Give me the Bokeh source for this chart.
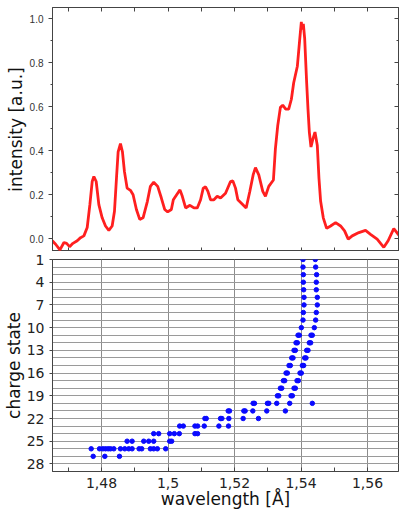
from bokeh.plotting import figure
from bokeh.models import Range1d, LinearAxis, FixedTicker, CustomJSTickFormatter, ColumnDataSource
from bokeh.layouts import column
from bokeh.embed import file_html
from bokeh.resources import INLINE

# ---- spectrum (top panel) ----
spec_wavelength = [
    1.4652, 1.4662, 1.4675, 1.4687, 1.4695, 1.4704, 1.4714, 1.4727, 1.4737, 1.4747,
    1.4757, 1.4765, 1.4772, 1.4777, 1.4784, 1.4792, 1.4802, 1.4812, 1.4822, 1.4832,
    1.4839, 1.4845, 1.4850, 1.4857, 1.4863, 1.4869, 1.4877, 1.4887, 1.4895, 1.4905,
    1.4915, 1.4925, 1.4938, 1.4947, 1.4957, 1.4969, 1.4980, 1.4990, 1.4999, 1.5010,
    1.5016, 1.5026, 1.5036, 1.5043, 1.5053, 1.5066, 1.5078, 1.5088, 1.5098, 1.5106,
    1.5113, 1.5120, 1.5128, 1.5138, 1.5148, 1.5158, 1.5173, 1.5188, 1.5195, 1.5203,
    1.5210, 1.5223, 1.5235, 1.5246, 1.5256, 1.5263, 1.5273, 1.5285, 1.5293, 1.5303,
    1.5317, 1.5323, 1.5330, 1.5338, 1.5345, 1.5354, 1.5363, 1.5371, 1.5378, 1.5389,
    1.5396, 1.5401, 1.5403, 1.5407, 1.5411, 1.5417, 1.5421, 1.5425, 1.5430, 1.5436,
    1.5442, 1.5449, 1.5454, 1.5459, 1.5467, 1.5477, 1.5489, 1.5504, 1.5519, 1.5531,
    1.5542, 1.5554, 1.5574, 1.5594, 1.5609, 1.5629, 1.5649, 1.5662, 1.5679, 1.5696,
]
spec_intensity = [
    -0.010, -0.026, -0.052, -0.018, -0.022, -0.037, -0.022, -0.010, 0.004, 0.012,
    0.050, 0.154, 0.259, 0.282, 0.259, 0.154, 0.094, 0.057, 0.037, 0.057,
    0.124, 0.274, 0.394, 0.431, 0.394, 0.304, 0.229, 0.219, 0.199, 0.132,
    0.087, 0.094, 0.169, 0.237, 0.256, 0.237, 0.184, 0.132, 0.121, 0.132,
    0.176, 0.199, 0.221, 0.192, 0.139, 0.151, 0.139, 0.139, 0.176, 0.229,
    0.235, 0.214, 0.176, 0.176, 0.192, 0.184, 0.206, 0.259, 0.262, 0.229,
    0.176, 0.157, 0.139, 0.214, 0.289, 0.322, 0.289, 0.214, 0.192, 0.237,
    0.266, 0.409, 0.513, 0.596, 0.606, 0.588, 0.588, 0.633, 0.708, 0.783,
    0.903, 0.985, 0.950, 0.975, 0.910, 0.708, 0.588, 0.484, 0.416, 0.454,
    0.484, 0.423, 0.274, 0.169, 0.094, 0.046, 0.057, 0.072, 0.057, 0.035,
    -0.003, 0.012, 0.027, 0.037, 0.019, -0.003, -0.040, -0.010, 0.045, 0.012,
]

# ---- transition wavelengths per charge state (bottom panel) ----
charge = (
    [1] * 2 + [2] * 2 + [3] * 2 + [4] * 2 + [5] * 2 + [6] * 2 + [7] * 2 + [8] * 2 + [9] * 2 + [10] * 2
    + [11] * 4 + [12] * 4 + [13] * 4 + [14] * 4 + [15] * 4 + [16] * 4 + [17] * 4 + [18] * 4 + [19] * 4
    + [20] * 7 + [21] * 7 + [22] * 7 + [23] * 7 + [24] * 7 + [25] * 7 + [26] * 17 + [27] * 3
)
line_wavelength = [
    1.5406, 1.5443,
    1.5406, 1.5444,
    1.5407, 1.5447,
    1.5407, 1.5446,
    1.5408, 1.5446,
    1.5409, 1.5449,
    1.5409, 1.5449,
    1.5407, 1.5446,
    1.5406, 1.5444,
    1.5401, 1.5440,
    1.5391, 1.5395, 1.5430, 1.5434,
    1.5385, 1.5389, 1.5425, 1.5429,
    1.5379, 1.5383, 1.5417, 1.5421,
    1.5372, 1.5376, 1.5411, 1.5415,
    1.5364, 1.5368, 1.5404, 1.5408,
    1.5355, 1.5359, 1.5397, 1.5401,
    1.5347, 1.5351, 1.5388, 1.5392,
    1.5338, 1.5342, 1.5379, 1.5383,
    1.5329, 1.5333, 1.5370, 1.5374,
    1.5256, 1.5260, 1.5299, 1.5303, 1.5327, 1.5366, 1.5434,
    1.5181, 1.5185, 1.5228, 1.5232, 1.5255, 1.5297, 1.5353,
    1.5111, 1.5115, 1.5158, 1.5162, 1.5183, 1.5226, 1.5272,
    1.5035, 1.5046, 1.5081, 1.5089, 1.5109, 1.5153, 1.5182,
    1.4957, 1.4972, 1.5005, 1.5019, 1.5034, 1.5081, 1.5089,
    1.4877, 1.4892, 1.4927, 1.4942, 1.4957, 1.5005, 1.5011,
    1.4769, 1.4794, 1.4804, 1.4812, 1.4820, 1.4827, 1.4837, 1.4857, 1.4870,
    1.4882, 1.4892, 1.4913, 1.4921, 1.4947, 1.4957, 1.4968, 1.4993,
    1.4775, 1.4810, 1.4854,
]

x_major = [1.48, 1.50, 1.52, 1.54, 1.56]
x_minor = [1.47, 1.48, 1.49, 1.50, 1.51, 1.52, 1.53, 1.54, 1.55, 1.56]
y_top_major = [0.0, 0.2, 0.4, 0.6, 0.8, 1.0]
y_top_minor = [0.1, 0.3, 0.5, 0.7, 0.9]
charge_ticks = [1, 4, 7, 10, 13, 16, 19, 22, 25, 28]
charge_rows = list(range(1, 29))

X0, X1 = 1.46526, 1.56932
W = 399
LEFT = 52
RIGHT = 1
AX = "#444444"

# ---------------- top panel ----------------
p1 = figure(width=W, height=251, x_range=Range1d(X0, X1), y_range=Range1d(-0.059, 1.05),
            output_backend="svg", toolbar_location=None,
            x_axis_location=None, y_axis_location=None,
            min_border_left=LEFT, min_border_right=RIGHT, min_border_top=7, min_border_bottom=0)
p1.grid.visible = False
p1.outline_line_color = AX

ly = LinearAxis(ticker=FixedTicker(ticks=y_top_major, minor_ticks=y_top_minor),
                formatter=CustomJSTickFormatter(code="return tick.toFixed(1);"),
                axis_label="intensity [a.u.]")
ly.axis_label_text_font = "DejaVu Sans"
ly.axis_label_text_font_size = "17px"
ly.axis_label_text_font_style = "normal"
ly.axis_label_text_color = "#111111"
ly.axis_label_standoff = 1
ly.major_label_text_font = "Liberation Sans"
ly.major_label_text_font_size = "10px"
ly.major_label_text_color = "#333333"
ly.major_label_standoff = 5
ly.major_tick_out = 4
ly.major_tick_in = 0
ly.minor_tick_out = 2
ly.minor_tick_in = 0
ly.axis_line_color = AX
ly.major_tick_line_color = AX
ly.minor_tick_line_color = AX
p1.add_layout(ly, "left")

ry = LinearAxis(ticker=FixedTicker(ticks=y_top_major, minor_ticks=y_top_minor),
                formatter=CustomJSTickFormatter(code="return '';"))
ry.major_label_text_font_size = "0px"
ry.major_label_standoff = 0
ry.major_tick_out = 0
ry.major_tick_in = 4
ry.minor_tick_out = 0
ry.minor_tick_in = 2
ry.axis_line_color = AX
ry.major_tick_line_color = AX
ry.minor_tick_line_color = AX
p1.add_layout(ry, "right")

for loc in ("above", "below"):
    ax = LinearAxis(ticker=FixedTicker(ticks=x_minor, minor_ticks=[]),
                    formatter=CustomJSTickFormatter(code="return '';"))
    ax.major_label_text_font_size = "0px"
    ax.major_label_standoff = 0
    ax.major_tick_out = 0
    ax.major_tick_in = 4
    ax.axis_line_color = AX
    ax.major_tick_line_color = AX
    p1.add_layout(ax, loc)

p1.line(spec_wavelength, spec_intensity, line_color="#ff1f1f", line_width=2.8)

# ---------------- bottom panel ----------------
src = ColumnDataSource(data=dict(w=line_wavelength, q=charge))
p2 = figure(width=W, height=260, x_range=Range1d(X0, X1), y_range=Range1d(29, 1),
            output_backend="svg", toolbar_location=None,
            min_border_left=LEFT, min_border_right=RIGHT, min_border_top=8, min_border_bottom=0)
p2.outline_line_color = AX

p2.xaxis.ticker = FixedTicker(ticks=x_major, minor_ticks=x_minor + [1.57])
p2.xaxis.formatter = CustomJSTickFormatter(
    code="return (Math.round(tick*100)/100).toString().replace('.', ',');")
p2.xaxis.axis_label = "wavelength [Å]"
p2.yaxis.ticker = FixedTicker(ticks=charge_ticks, minor_ticks=charge_rows)
p2.yaxis.axis_label = "charge state"

for ax in (p2.xaxis[0], p2.yaxis[0]):
    ax.axis_label_text_font = "DejaVu Sans"
    ax.axis_label_text_font_size = "17px"
    ax.axis_label_text_font_style = "normal"
    ax.axis_label_text_color = "#111111"
    ax.axis_label_standoff = 0
    ax.major_label_text_font = "DejaVu Sans"
    ax.major_label_text_font_size = "14px"
    ax.major_label_text_color = "#222222"
    ax.axis_line_color = AX
    ax.major_tick_line_color = AX
    ax.minor_tick_line_color = AX

p2.xaxis.major_tick_in = 0
p2.xaxis.major_tick_out = 0
p2.xaxis.minor_tick_in = 4
p2.xaxis.minor_tick_out = 0
p2.xaxis.major_label_standoff = 6
p2.xaxis.axis_label_standoff = -2
p2.yaxis.major_tick_out = 3
p2.yaxis.major_tick_in = 0
p2.yaxis.minor_tick_line_color = None
p2.yaxis.major_label_standoff = 4

p2.xgrid.grid_line_color = "#8c8c8c"
p2.ygrid.grid_line_color = "#9a9a9a"
p2.ygrid.minor_grid_line_color = "#9a9a9a"

p2.scatter(x="w", y="q", source=src, size=4.5, marker="circle",
           fill_color="#0a0aff", line_color="#0a0aff")

layout = column(p1, p2, spacing=0)
open("out.html", "w").write(file_html(layout, INLINE))
